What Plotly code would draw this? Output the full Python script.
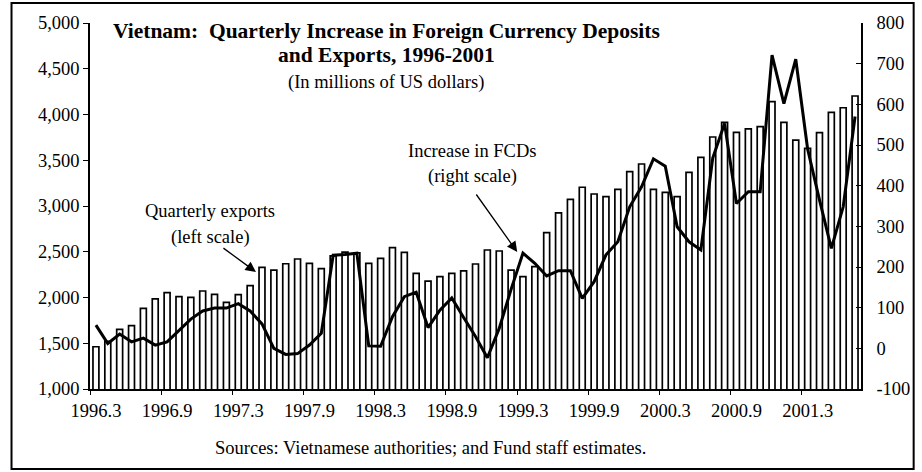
import plotly.graph_objects as go

# ---- data ----
exports = [1462, 1520, 1652, 1692, 1882, 1984, 2053, 2009, 2002, 2071,
           2035, 1947, 2031, 2129, 2330, 2300, 2369, 2421, 2373, 2315,
           2455, 2495, 2487, 2373, 2428, 2544, 2494, 2264, 2180, 2228,
           2264, 2290, 2366, 2519, 2508, 2300, 2228, 2337, 2708, 2924,
           3073, 3205, 3131, 3102, 3182, 3375, 3459, 3182, 3150, 3102,
           3368, 3532, 3754, 3914, 3805, 3842, 3867, 4140, 3914, 3721,
           3630, 3801, 4024, 4074, 4202]
fcd_increase = [57, 12, 35, 16, 25, 8, 16, 43, 72, 92,
                99, 99, 110, 92, 60, 0, -15, -13, 8, 37,
                229, 231, 234, 6, 5, 78, 127, 138, 51, 94,
                124, 76, 29, -23, 49, 145, 234, 209, 178, 191,
                191, 123, 164, 230, 262, 348, 397, 466, 448, 299,
                262, 242, 468, 553, 356, 385, 385, 721, 602, 711,
                490, 365, 246, 348, 570]
tick_labels = ["1996.3", "1996.9", "1997.3", "1997.9", "1998.3", "1998.9",
               "1999.3", "1999.9", "2000.3", "2000.9", "2001.3"]
left_ticks = [1000, 1500, 2000, 2500, 3000, 3500, 4000, 4500, 5000]
right_ticks = [-100, 0, 100, 200, 300, 400, 500, 600, 700, 800]

months = list(range(len(exports)))
tick_step = 6

FONT = "Liberation Serif"
W, H = 922, 472
L, R, T, B = 90, 56, 23, 83
pw, ph = W - L - R, H - T - B


def px(x):
    return (x - L) / pw


def py(y):
    return (H - B - y) / ph


fig = go.Figure()
fig.add_trace(go.Bar(
    x=months, y=exports, width=0.5,
    marker=dict(color="white", line=dict(color="black", width=1.7)),
    yaxis="y", showlegend=False,
))
fig.add_trace(go.Scatter(
    x=months, y=fcd_increase, mode="lines",
    line=dict(color="black", width=3),
    yaxis="y2", showlegend=False,
))

fig.update_layout(
    width=W, height=H,
    margin=dict(l=L, r=R, t=T, b=B, pad=0),
    paper_bgcolor="white", plot_bgcolor="white",
    font=dict(family=FONT, color="black", size=18),
    xaxis=dict(
        range=[-0.5, len(exports) - 0.5],
        tickmode="array",
        tickvals=[i - 0.5 for i in range(0, len(exports), tick_step)],
        ticktext=tick_labels,
        ticklabelshift=6,
        ticks="outside", ticklen=4, tickcolor="black", tickwidth=1,
        showline=True, linecolor="black", linewidth=1.5,
        showgrid=False, zeroline=False,
        tickfont=dict(family=FONT, size=18.5),
    ),
    yaxis=dict(
        range=[1000, 5000],
        tickmode="array", tickvals=left_ticks,
        ticktext=[f"{v:,}" for v in left_ticks],
        ticks="outside", ticklen=5, tickcolor="black",
        showline=True, linecolor="black", linewidth=1.5,
        showgrid=False, zeroline=False,
        tickfont=dict(family=FONT, size=18.5),
    ),
    yaxis2=dict(
        range=[-100, 800], overlaying="y", side="right",
        tickmode="array", tickvals=right_ticks,
        ticktext=[str(v) for v in right_ticks],
        ticks="inside", ticklen=5, tickcolor="black",
        showline=True, linecolor="black", linewidth=1.5,
        showgrid=False, zeroline=False,
        tickfont=dict(family=FONT, size=18.5),
        ticklabelstandoff=10,
    ),
    bargap=0.5,
)

ann = []
title_x = px(388)
ann.append(dict(text="<b>Vietnam:  Quarterly Increase in Foreign Currency Deposits</b>",
                x=title_x, y=py(31), font=dict(size=21.5)))
ann.append(dict(text="<b>and Exports, 1996-2001</b>", x=title_x, y=py(55),
                font=dict(size=21.5)))
ann.append(dict(text="(In millions of US dollars)", x=title_x, y=py(83),
                font=dict(size=18.5)))
ann.append(dict(text="Quarterly exports", x=px(211), y=py(211), font=dict(size=18.5)))
ann.append(dict(text="(left scale)", x=px(211), y=py(237), font=dict(size=18.5)))
ann.append(dict(text="Increase in FCDs", x=px(474), y=py(151), font=dict(size=18.5)))
ann.append(dict(text="(right scale)", x=px(475), y=py(176), font=dict(size=18.5)))
ann.append(dict(text="Sources: Vietnamese authorities; and Fund staff estimates.",
                x=px(433), y=py(448), font=dict(size=18.5)))
for a in ann:
    a.update(xref="paper", yref="paper", showarrow=False,
             xanchor="center", yanchor="middle")
    a["font"]["family"] = FONT
    a["font"]["color"] = "black"

# arrows (tail pixel -> head pixel)
for (tx, ty, hx, hy) in [(223, 247, 257, 272), (478, 193, 520, 252)]:
    ann.append(dict(x=px(hx), y=py(hy), ax=tx - hx, ay=ty - hy,
                    xref="paper", yref="paper", axref="pixel", ayref="pixel",
                    text="", showarrow=True, arrowhead=2, arrowsize=1.6,
                    arrowwidth=1.3, arrowcolor="black"))
fig.update_layout(annotations=ann)

# frame around the whole exhibit
fig.add_shape(type="rect", xref="paper", yref="paper",
              x0=px(11), x1=px(919), y0=py(469), y1=py(3),
              line=dict(color="black", width=2), fillcolor="rgba(0,0,0,0)")

fig.write_html("out.html", config={"displayModeBar": False},
               post_script="document.body.style.margin='0';")
